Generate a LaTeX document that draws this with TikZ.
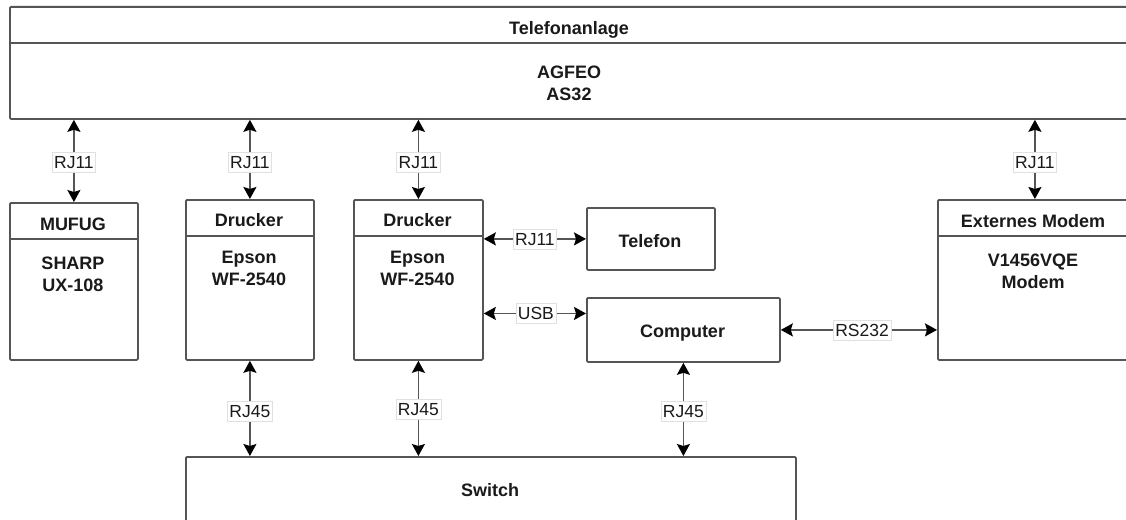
\documentclass[tikz,border=0pt]{standalone}
\usepackage{fontspec}
\setmainfont{Liberation Sans}
\usetikzlibrary{arrows.meta,calc}
\definecolor{ln}{HTML}{555555}
\definecolor{txt}{HTML}{1A1A1A}
\begin{document}
\begin{tikzpicture}[x=1pt,y=-1pt,
  box/.style={draw=ln, line width=1.8pt, rounded corners=1.2pt, inner sep=0pt, anchor=north west},
  divline/.style={draw=ln, line width=1.8pt},
  ttl/.style={font=\fontsize{18}{22}\selectfont\bfseries, text=txt, align=center, inner sep=0pt},
  lbl/.style={fill=white, draw=black!12, line width=0.5pt, font=\fontsize{17.5}{19}\selectfont, text=txt,
    inner xsep=2pt, inner ysep=0pt, text height=12.5pt, text depth=0pt, minimum height=20pt},
  tip/.style={Stealth[length=12pt,width=13pt,inset=2pt,color=black]},
  con/.style={draw=ln, line width=1.7pt, {Stealth[length=12pt,width=13pt,inset=2pt,color=black]}-{Stealth[length=12pt,width=13pt,inset=2pt,color=black]}}]
\clip (0,0) rectangle (1126,519);
\fill[white] (0,0) rectangle (1126,519);

% boxes
\node[box, minimum width=1121pt, minimum height=112pt] (anl) at (9,6) {};
\draw[divline] (anl.west |- 0,43) -- (anl.east |- 0,43);
\node[box, minimum width=128pt, minimum height=157pt] (mufug) at (9,202) {};
\draw[divline] (mufug.west |- 0,239) -- (mufug.east |- 0,239);
\node[box, minimum width=128pt, minimum height=160pt] (dr1) at (185,199) {};
\draw[divline] (dr1.west |- 0,236) -- (dr1.east |- 0,236);
\node[box, minimum width=129pt, minimum height=160pt] (dr2) at (353,199) {};
\draw[divline] (dr2.west |- 0,236) -- (dr2.east |- 0,236);
\node[box, minimum width=128pt, minimum height=62pt] (tel) at (586,207) {};
\node[box, minimum width=193pt, minimum height=64pt] (comp) at (586,297) {};
\node[box, minimum width=194pt, minimum height=160pt] (modem) at (937,199) {};
\draw[divline] (modem.west |- 0,236) -- (modem.east |- 0,236);
\node[box, minimum width=610pt, minimum height=80pt] (sw) at (185,456) {};

% texts
\node[ttl, anchor=north] (tAnl) at (569,21) {Telefonanlage};
\node[ttl, anchor=north] (tAgfeo) at (569,66) {AGFEO\\AS32};
\node[ttl, anchor=north] (tMufug) at (73,218) {MUFUG};
\node[ttl, anchor=north] (tSharp) at (73,256.5) {SHARP\\UX-108};
\node[ttl, anchor=north] (tDr1) at (249,213) {Drucker};
\node[ttl, anchor=north] (tEp1) at (249,251) {Epson\\WF-2540};
\node[ttl, anchor=north] (tDr2) at (417.5,213) {Drucker};
\node[ttl, anchor=north] (tEp2) at (417.5,251) {Epson\\WF-2540};
\node[ttl] (tTel) at (650,241.3) {Telefon};
\node[ttl, anchor=base] (tComp) at (682.5,337.3) {Computer};
\node[ttl, anchor=north] (tExt) at (1033,214) {Externes Modem};
\node[ttl, anchor=north] (tV) at (1033,254) {V1456VQE\\Modem};
\node[ttl, anchor=base] (tSw) at (490,496.5) {Switch};

% connectors
\draw[con] (anl.south -| mufug.north) -- node[lbl, pos=0.52] (l1) {RJ11} (mufug.north);
\draw[con] (anl.south -| dr1.north) -- node[lbl, pos=0.54] (l2) {RJ11} (dr1.north);
\draw[con] (anl.south -| dr2.north) -- node[lbl, pos=0.54] (l3) {RJ11} (dr2.north);
\draw[con] (anl.south -| modem.north) -- node[lbl, pos=0.54] (l4) {RJ11} (modem.north);
\draw[con] (dr2.east |- tel.west) -- node[lbl, pos=0.5] (l5) {RJ11} (tel.west);
\coordinate (usbend) at ($(comp.north west)!0.25!(comp.south west)$);
\draw[con] (dr2.east |- usbend) -- node[lbl, pos=0.51] (l6) {USB} (usbend);
\draw[con] (comp.east) -- node[lbl, pos=0.52] (l7) {RS232} (comp.east -| modem.west);
\draw[con] (dr1.south) -- node[lbl, pos=0.53] (l8) {RJ45} (dr1.south |- sw.north);
\draw[con] (dr2.south) -- node[lbl, pos=0.51] (l9) {RJ45} (dr2.south |- sw.north);
\draw[con] (comp.south) -- node[lbl, pos=0.52] (l10) {RJ45} (comp.south |- sw.north);
\end{tikzpicture}
\end{document}
